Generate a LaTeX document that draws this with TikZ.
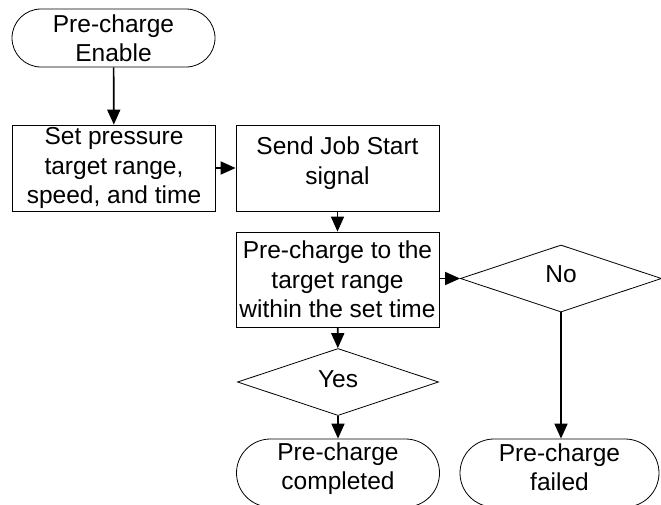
\documentclass[tikz,border=0pt]{standalone}
\usepackage{fontspec}
\setmainfont{Liberation Sans}
\usetikzlibrary{arrows.meta,shapes.geometric}

\begin{document}
\begin{tikzpicture}[x=1pt,y=-1pt,font=\fontsize{24.5}{29.5}\selectfont,
  term/.style={draw,line width=0.8pt,align=center,inner sep=0pt,minimum width=203pt},
  proc/.style={draw,line width=0.8pt,align=center,inner sep=0pt,minimum width=203pt},
  cond/.style={draw,line width=0.8pt,diamond,inner sep=0pt,minimum width=201pt,minimum height=67pt},
  flow/.style={-{Triangle[length=15pt,width=13pt]},line width=1.7pt}]
\useasboundingbox (0,0) rectangle (661,504);
% nodes
\node[term,rounded corners=29pt,minimum height=58pt] (enable) at (113.5,38) {Pre-charge\\Enable};
\node[proc,minimum height=86pt] (setp) at (114,168) {Set pressure\\target range,\\speed, and time};
\node[proc,minimum height=86pt,text depth=15pt] (send) at (337.5,168) {Send Job Start\\signal};
\node[proc,minimum height=95pt] (charge) at (337.5,279.5) {Pre-charge to the\\target range\\within the set time};
\node[cond,text depth=8pt] (no) at (561,278.5) {No};
\node[cond,text depth=6pt] (yes) at (338,382) {Yes};
\node[term,rounded corners=34pt,minimum height=68pt,text depth=14pt] (done) at (338,473) {Pre-charge\\completed};
\node[term,rounded corners=34pt,minimum height=68pt,minimum width=199pt,text depth=12pt] (fail) at (559.5,473) {Pre-charge\\failed};
% connectors
\draw[flow] (enable) -- (setp);
\draw[flow] (setp) -- (send);
\draw[flow] (send) -- (charge);
\draw[flow] (charge.east |- no.west) -- (no.west);
\draw[flow] (charge) -- (yes);
\draw[flow] (yes) -- (done);
\draw[flow] (no) -- (fail.north -| no.south);
\end{tikzpicture}
\end{document}
